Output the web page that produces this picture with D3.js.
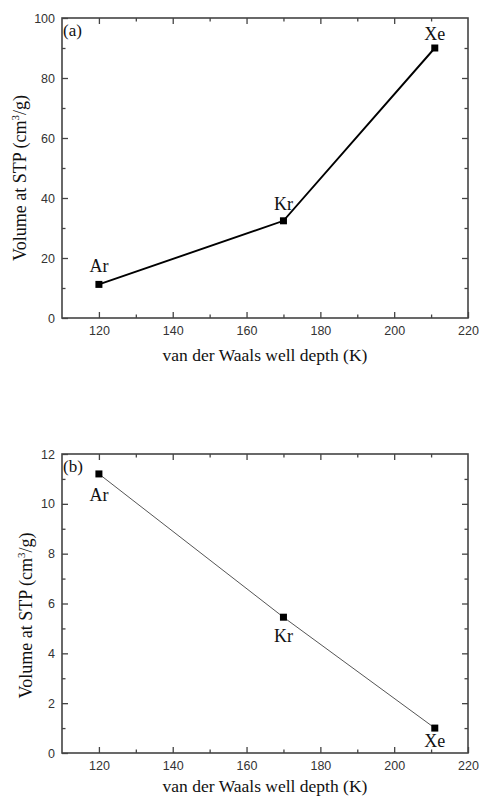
<!DOCTYPE html>
<html>
<head>
<meta charset="utf-8">
<script src="https://cdn.jsdelivr.net/npm/d3@7"></script>
<style>
  html, body { margin: 0; padding: 0; background: #fff; }
  svg { display: block; }
</style>
</head>
<body>
<svg id="chart" width="479" height="798"></svg>
<script>
// Gas adsorption versus van der Waals well depth
const gases = ["Ar", "Kr", "Xe"];
const wellDepth = [120, 170, 211];
const volumeA = [11.2, 32.4, 90];
const volumeB = [11.2, 5.45, 1.0];

const xTicks = [120, 140, 160, 180, 200, 220];
const yTicksA = [0, 20, 40, 60, 80, 100];
const yTicksB = [0, 2, 4, 6, 8, 10, 12];

const svg = d3.select("#chart");
const serif = "'Liberation Serif', 'Times New Roman', serif";
const sans = "'Liberation Sans', Arial, sans-serif";
const frameColor = "#444";

function panel(opts) {
  const { top, bottom, left, right, yDomain, yTicks, yMinor, values,
          tag, lineWidth, lineColor, labelOffsets, yLabelX } = opts;
  const x = d3.scaleLinear().domain([110, 220]).range([left, right]);
  const y = d3.scaleLinear().domain(yDomain).range([bottom, top]);
  const g = svg.append("g");

  const xMinor = d3.range(130, 220, 20);

  // inward ticks on all four sides
  const axes = [
    { axis: d3.axisBottom(x).tickValues(xTicks).tickSizeInner(-6).tickSizeOuter(0).tickPadding(8), t: `translate(0,${bottom})` },
    { axis: d3.axisBottom(x).tickValues(xMinor).tickSizeInner(-3.5).tickSizeOuter(0).tickFormat(""), t: `translate(0,${bottom})` },
    { axis: d3.axisTop(x).tickValues(xTicks.filter(v => v < 220)).tickSizeInner(-6).tickSizeOuter(0).tickFormat(""), t: `translate(0,${top})` },
    { axis: d3.axisTop(x).tickValues(xMinor).tickSizeInner(-3.5).tickSizeOuter(0).tickFormat(""), t: `translate(0,${top})` },
    { axis: d3.axisLeft(y).tickValues(yTicks).tickSizeInner(-6).tickSizeOuter(0).tickPadding(7), t: `translate(${left},0)` },
    { axis: d3.axisLeft(y).tickValues(yMinor).tickSizeInner(-3.5).tickSizeOuter(0).tickFormat(""), t: `translate(${left},0)` },
    { axis: d3.axisRight(y).tickValues(yTicks.slice(1, -1)).tickSizeInner(-6).tickSizeOuter(0).tickFormat(""), t: `translate(${right},0)` },
    { axis: d3.axisRight(y).tickValues(yMinor).tickSizeInner(-3.5).tickSizeOuter(0).tickFormat(""), t: `translate(${right},0)` }
  ];
  axes.forEach(a => {
    const ag = g.append("g").attr("transform", a.t).call(a.axis);
    ag.select(".domain").remove();
    ag.selectAll(".tick line").attr("stroke", frameColor).attr("stroke-width", 1.3);
    ag.selectAll(".tick text").attr("fill", "#333")
      .style("font-family", sans).style("font-size", "12.5px");
  });

  // frame
  g.append("rect")
    .attr("x", left).attr("y", top)
    .attr("width", right - left).attr("height", bottom - top)
    .attr("fill", "none").attr("stroke", frameColor).attr("stroke-width", 1.6);

  const pts = gases.map((name, i) => ({ name, x: wellDepth[i], v: values[i] }));

  g.append("path")
    .datum(pts)
    .attr("fill", "none")
    .attr("stroke", lineColor)
    .attr("stroke-width", lineWidth)
    .attr("d", d3.line().x(d => x(d.x)).y(d => y(d.v)));

  g.selectAll("rect.pt").data(pts).join("rect")
    .attr("class", "pt")
    .attr("x", d => x(d.x) - 3.5).attr("y", d => y(d.v) - 3.5)
    .attr("width", 7).attr("height", 7)
    .attr("fill", "#000");

  g.selectAll("text.gas").data(pts).join("text")
    .attr("class", "gas")
    .attr("x", d => x(d.x))
    .attr("y", (d, i) => y(d.v) + labelOffsets[i])
    .attr("text-anchor", "middle")
    .style("font-family", serif).style("font-size", "18px")
    .attr("fill", "#111")
    .text(d => d.name);

  g.append("text")
    .attr("x", left + 1).attr("y", top + 18)
    .style("font-family", serif).style("font-size", "17px")
    .attr("fill", "#111")
    .text(tag);

  g.append("text")
    .attr("x", (left + right) / 2).attr("y", bottom + opts.xLabelGap)
    .attr("text-anchor", "middle")
    .style("font-family", serif).style("font-size", "17.5px")
    .attr("fill", "#111")
    .text("van der Waals well depth (K)");

  const yl = g.append("text")
    .attr("transform", `translate(${yLabelX},${(top + bottom) / 2 + opts.yLabelShift}) rotate(-90)`)
    .attr("text-anchor", "middle")
    .style("font-family", serif).style("font-size", "18px")
    .attr("fill", "#111");
  yl.append("tspan").text("Volume at STP (cm");
  yl.append("tspan").attr("dy", -7).style("font-size", "11px").text("3");
  yl.append("tspan").attr("dy", 7).text("/g)");
}

panel({
  top: 18, bottom: 318, left: 62, right: 468,
  yDomain: [0, 100], yTicks: yTicksA, yMinor: d3.range(10, 100, 20),
  values: volumeA, tag: "(a)", lineWidth: 1.9, lineColor: "#000",
  labelOffsets: [-12, -11, -8], yLabelX: 26, yLabelShift: 10, xLabelGap: 43
});

panel({
  top: 454, bottom: 753, left: 62, right: 468,
  yDomain: [0, 12], yTicks: yTicksB, yMinor: d3.range(1, 12, 2),
  values: volumeB, tag: "(b)", lineWidth: 1, lineColor: "#555",
  labelOffsets: [27, 25, 19], yLabelX: 32, yLabelShift: 12, xLabelGap: 39
});
</script>
</body>
</html>
